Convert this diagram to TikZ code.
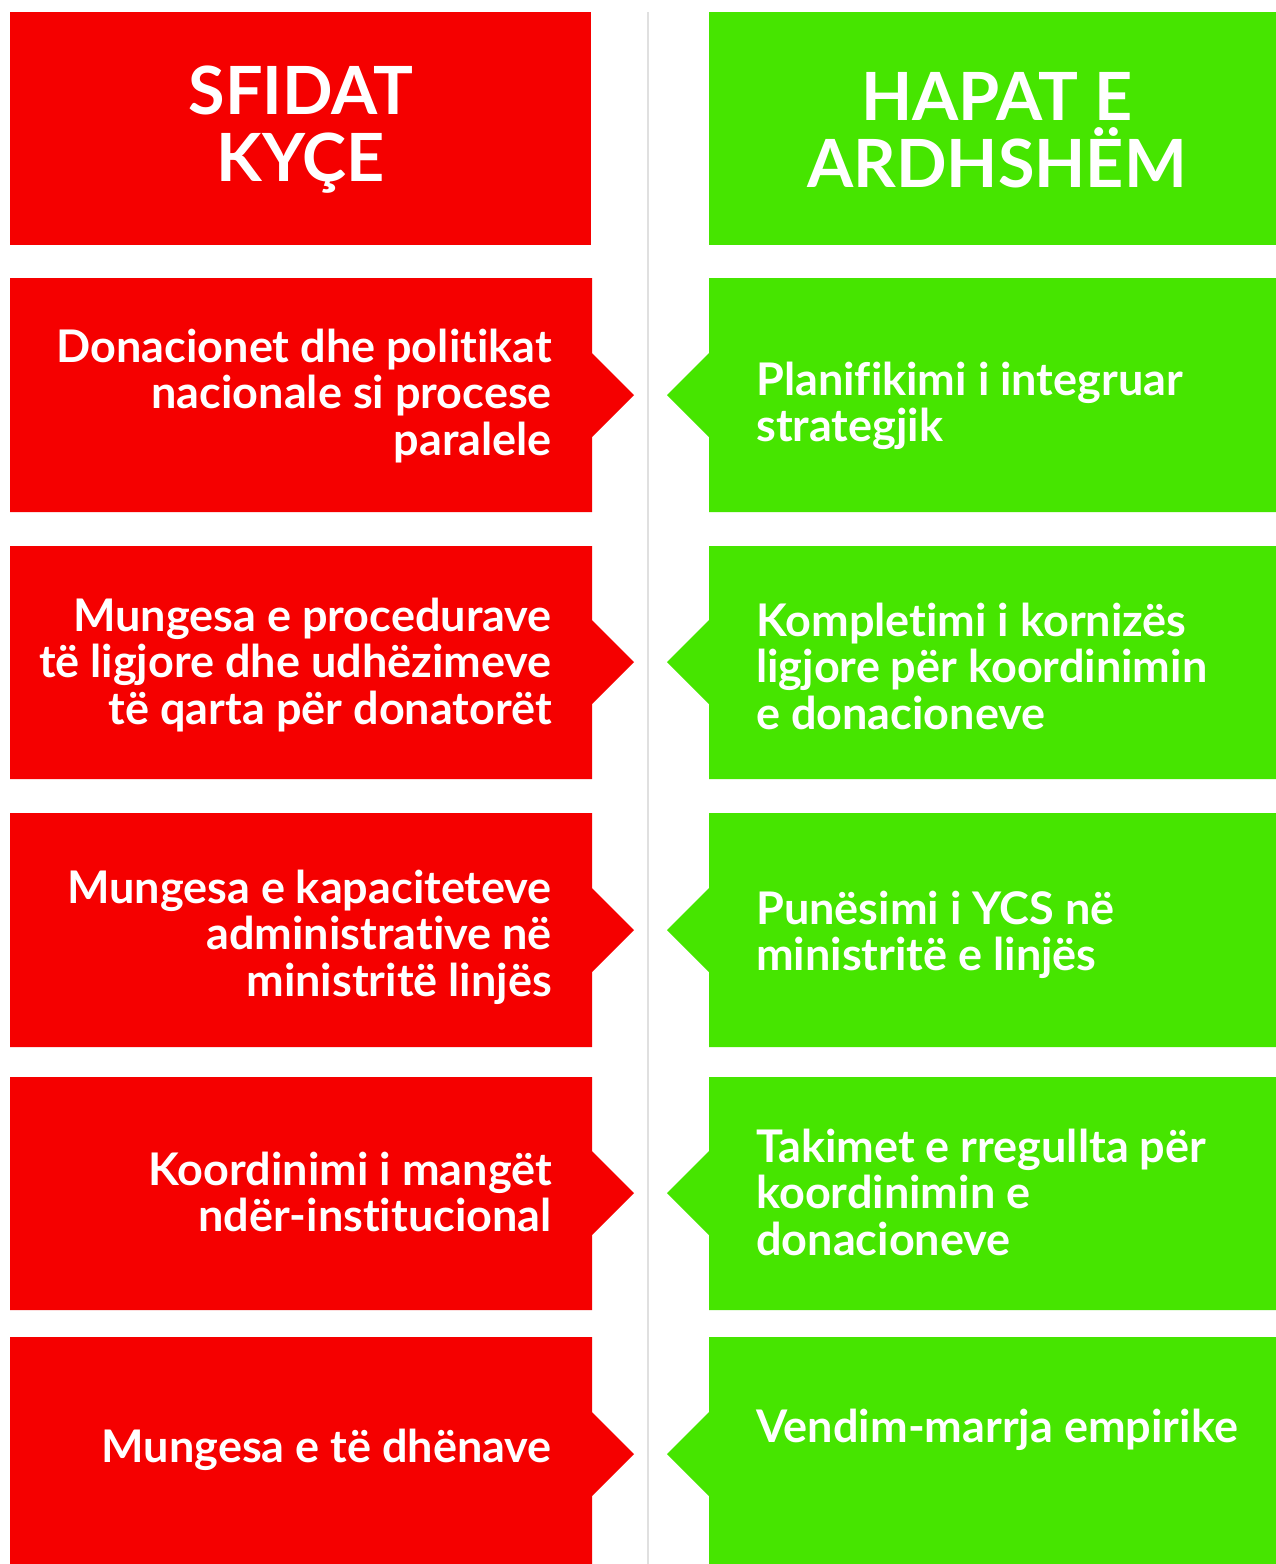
\documentclass[tikz,border=0pt]{standalone}
\usepackage{fontspec}
\setmainfont{Lato}[UprightFont=* Bold,RawFeature={-liga;-dlig}]
\definecolor{cred}{RGB}{245,0,0}
\definecolor{cgreen}{RGB}{70,229,0}
\definecolor{sep}{RGB}{224,224,224}
\begin{document}
\begin{tikzpicture}[x=1pt,y=-1pt,
  head/.style={text=white,inner sep=0pt,align=center,font=\fontsize{66.5}{67}\selectfont},
  rtxt/.style={text=white,inner sep=0pt,align=right,anchor=east,font=\fontsize{45}{46.5}\selectfont},
  gtxt/.style={text=white,inner sep=0pt,align=left,anchor=west,font=\fontsize{45}{46.5}\selectfont}]
\useasboundingbox (0,0) rectangle (1276,1564);
\fill[white] (0,0) rectangle (1276,1564);
\draw[sep,line width=2.5pt] (648,12) -- (648,1564);
% headers
\fill[cred] (10,12) rectangle (591,245);
\fill[cgreen] (709,12) rectangle (1276,245);
\node[head] (h1) at (301,130) {SFIDAT\\KYÇE};
\node[head] (h2) at (997,130) {HAPAT E\\ARDHSHËM};
% rows
\foreach \t/\b/\c in {278/512/395,546/779/662,813/1047/930,1077/1310/1193,1337/1600/1454}{
  \fill[cred] (10,\t) -- (592,\t) -- (592,\c-42) -- (634,\c) -- (592,\c+42) -- (592,\b) -- (10,\b) -- cycle;
  \fill[cgreen] (709,\t) -- (1276,\t) -- (1276,\b) -- (709,\b) -- (709,\c+42) -- (667,\c) -- (709,\c-42) -- cycle;
}
\node[rtxt] (r1) at (552,396) {Donacionet dhe politikat\\nacionale si procese\\paralele};
\node[rtxt] (r2) at (552,665) {Mungesa e procedurave\\të ligjore dhe udhëzimeve\\të qarta për donatorët};
\node[rtxt] (r3) at (552,937) {Mungesa e kapaciteteve\\administrative në\\ministritë linjës};
\node[rtxt] (r4) at (552,1192) {Koordinimi i mangët\\ndër-institucional};
\node[rtxt] (r5) at (552,1450) {Mungesa e të dhënave};
\node[gtxt] (g1) at (756,406) {Planifikimi i integruar\\strategjik};
\node[gtxt] (g2) at (756,666) {Kompletimi i kornizës\\ligjore për koordinimin\\e donacioneve};
\node[gtxt] (g3) at (756,935) {Punësimi i YCS në\\ministritë e linjës};
\node[gtxt] (g4) at (756,1192) {Takimet e rregullta për\\koordinimin e\\donacioneve};
\node[gtxt] (g5) at (756,1430) {Vendim-marrja empirike};
\end{tikzpicture}
\end{document}
